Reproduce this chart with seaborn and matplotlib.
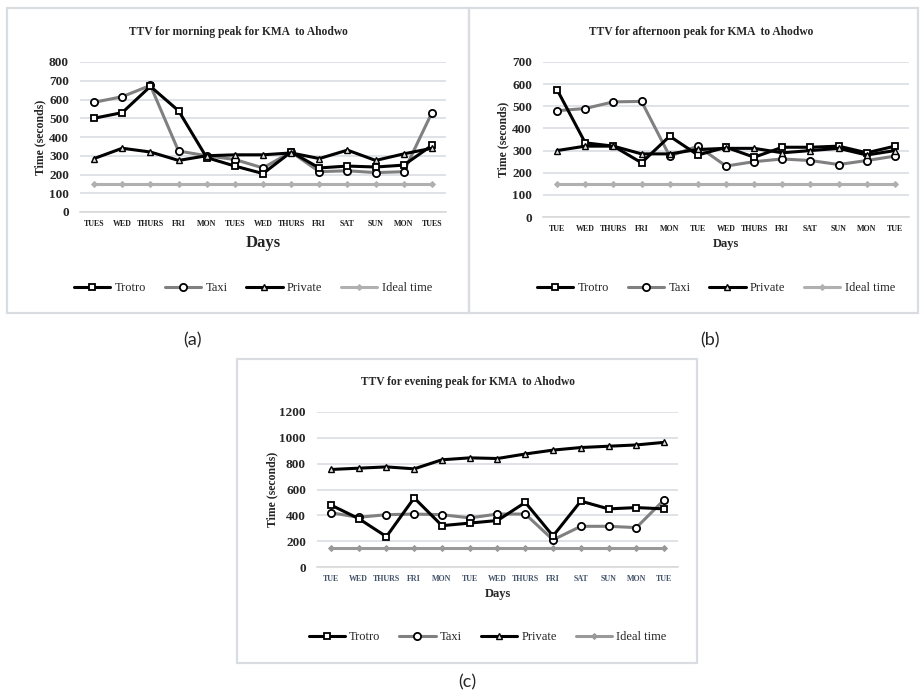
import matplotlib
matplotlib.use("Agg")
import matplotlib.pyplot as plt
import numpy as np
import seaborn as sns
from matplotlib.patches import Rectangle

###############################################################################
# data
###############################################################################

days_morning = ["TUES", "WED", "THURS", "FRI", "MON", "TUES", "WED", "THURS",
                "FRI", "SAT", "SUN", "MON", "TUES"]
days_other = ["TUE", "WED", "THURS", "FRI", "MON", "TUE", "WED", "THURS",
              "FRI", "SAT", "SUN", "MON", "TUE"]

morning_trotro = [500, 530, 670, 540, 290, 245, 205, 320, 235, 245, 240, 250, 355]
morning_taxi = [585, 615, 675, 325, 300, 280, 235, 320, 215, 220, 210, 215, 530]
morning_private = [285, 340, 320, 275, 300, 305, 305, 315, 285, 330, 275, 310, 340]
morning_ideal = [150] * 13

afternoon_trotro = [575, 335, 320, 245, 365, 280, 315, 270, 315, 315, 320, 290, 320]
afternoon_taxi = [480, 490, 520, 522, 275, 320, 230, 250, 262, 255, 237, 255, 275]
afternoon_private = [300, 320, 320, 285, 285, 305, 310, 310, 290, 300, 310, 280, 300]
afternoon_ideal = [150] * 13

evening_trotro = [480, 375, 235, 535, 320, 340, 360, 500, 240, 510, 450, 460, 450]
evening_taxi = [420, 385, 405, 410, 405, 380, 410, 410, 210, 315, 315, 305, 520]
evening_private = [755, 765, 775, 760, 830, 845, 840, 875, 905, 925, 935, 945, 965]
evening_ideal = [150] * 13

###############################################################################
# style
###############################################################################

sns.set_style("white")
plt.rcParams['font.family'] = ['Liberation Serif', 'DejaVu Serif']

W, H = 923, 699
fig = plt.figure(figsize=(W / 100, H / 100), dpi=100)


def px_axes(x0, x1, ytop, ybot):
    return fig.add_axes([x0 / W, 1 - ybot / H, (x1 - x0) / W, (ybot - ytop) / H])


def frame(x0, x1, ytop, ybot):
    fig.add_artist(Rectangle((x0 / W, 1 - ybot / H), (x1 - x0) / W, (ybot - ytop) / H,
                             transform=fig.transFigure, fill=False,
                             edgecolor='#d9dde2', lw=1.6))


def panel(ax, days, trotro, taxi, private, ideal, ymax, ystep, title, title_xy,
          ylabel_x, days_y, days_size, legend_y, tick_color, ideal_color):
    pos = np.arange(len(days))
    sns.lineplot(x=pos, y=trotro, ax=ax, color='black', lw=2.2, marker='s',
                 markersize=5, markerfacecolor='white', markeredgecolor='black',
                 markeredgewidth=1.3, label='Trotro', zorder=4)
    sns.lineplot(x=pos, y=taxi, ax=ax, color='#808080', lw=2.2, marker='o',
                 markersize=5.2, markerfacecolor='white', markeredgecolor='black',
                 markeredgewidth=1.3, label='Taxi', zorder=3)
    sns.lineplot(x=pos, y=private, ax=ax, color='black', lw=2.2, marker='^',
                 markersize=4.5, markerfacecolor='#e0e0e0', markeredgecolor='black',
                 markeredgewidth=1.0, label='Private', zorder=5)
    sns.lineplot(x=pos, y=ideal, ax=ax, color=ideal_color, lw=2.2, marker='D',
                 markersize=3, markerfacecolor=ideal_color,
                 markeredgecolor=ideal_color, label='Ideal time', zorder=2)

    ax.set_xlim(-0.5, len(days) - 0.5)
    ax.set_ylim(0, ymax)
    ax.set_yticks(np.arange(0, ymax + 1, ystep))
    ax.yaxis.grid(True, color='#d9dde2', lw=1.2)
    ax.set_axisbelow(True)
    for s in ['top', 'right', 'left']:
        ax.spines[s].set_visible(False)
    ax.spines['bottom'].set_color('#d9d9d9')
    ax.spines['bottom'].set_linewidth(1.2)
    ax.set_xticks(pos)
    ax.set_xticklabels(days, fontsize=5.8, fontweight='bold', color=tick_color)
    ax.set_xticks(np.arange(-0.5, len(days)), minor=True)
    ax.tick_params(axis='x', which='major', length=0, pad=6)
    ax.tick_params(axis='x', which='minor', length=4, color='#d9d9d9', width=1)
    ax.tick_params(axis='y', length=0, labelsize=9.5, pad=8)
    for t in ax.get_yticklabels():
        t.set_fontweight('bold')
    ax.set_xlabel('')
    ax.set_ylabel('')

    fig.text(title_xy[0] / W, 1 - title_xy[1] / H, title, ha='center', va='center',
             fontsize=8.3, fontweight='bold')
    bb = ax.get_position()
    fig.text(ylabel_x / W, bb.y0 + bb.height / 2, 'Time (seconds)', rotation=90,
             ha='center', va='center', fontsize=8.5, fontweight='bold')
    fig.text(bb.x0 + bb.width / 2, 1 - days_y / H, 'Days', ha='center',
             va='center', fontsize=days_size, fontweight='bold')
    ax.legend(loc='center', bbox_to_anchor=(bb.x0 + bb.width / 2 - 10 / W, 1 - legend_y / H),
              bbox_transform=fig.transFigure, ncol=4, frameon=False, fontsize=9,
              handlelength=2.9, columnspacing=1.5, handletextpad=0.35)


# (a) morning
frame(7, 469, 8, 313)
ax_a = px_axes(80, 446, 62, 212)
panel(ax_a, days_morning, morning_trotro, morning_taxi, morning_private,
      morning_ideal, 800, 100, 'TTV for morning peak for KMA  to Ahodwo',
      (238, 32), 40, 243, 12, 288, '#222222', '#b0b0b0')

# (b) afternoon
frame(469, 918, 8, 313)
ax_b = px_axes(543, 909, 62, 217)
panel(ax_b, days_other, afternoon_trotro, afternoon_taxi, afternoon_private,
      afternoon_ideal, 700, 100, 'TTV for afternoon peak for KMA  to Ahodwo',
      (701, 32), 503, 244, 9, 288, '#222222', '#b0b0b0')

# (c) evening
frame(237, 697, 359, 663)
ax_c = px_axes(317, 678, 412, 567)
panel(ax_c, days_other, evening_trotro, evening_taxi, evening_private,
      evening_ideal, 1200, 200, 'TTV for evening peak for KMA  to Ahodwo',
      (468, 382), 272, 594, 9, 637, '#44546a', '#999999')

for lab, x, y in [('(a)', 192, 340), ('(b)', 710, 340), ('(c)', 467, 682)]:
    fig.text(x / W, 1 - y / H, lab, ha='center', va='center', fontsize=13,
             family=['Lato', 'DejaVu Sans'])

fig.savefig('out.png', dpi=100, facecolor='white')
